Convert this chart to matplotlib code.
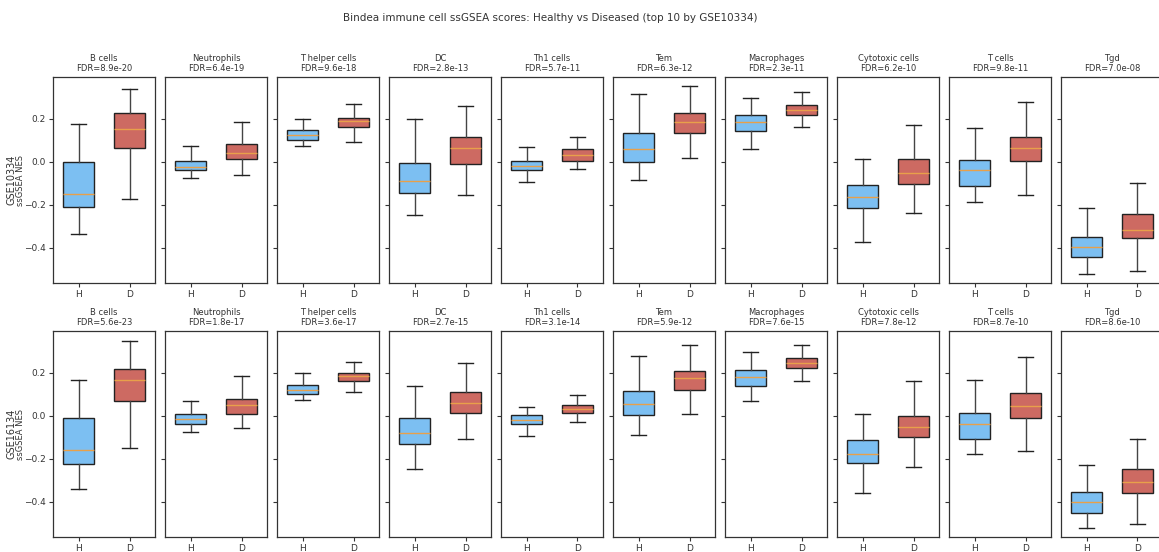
import matplotlib
matplotlib.use("Agg")
import matplotlib.pyplot as plt

# cell types (top 10 by GSE10334) and per-dataset FDR labels
cell_types = ["B cells", "Neutrophils", "T helper cells", "DC", "Th1 cells",
              "Tem", "Macrophages", "Cytotoxic cells", "T cells", "Tgd"]
datasets = ["GSE10334", "GSE16134"]
fdr = {
    "GSE10334": ["8.9e-20", "6.4e-19", "9.6e-18", "2.8e-13", "5.7e-11",
                 "6.3e-12", "2.3e-11", "6.2e-10", "9.8e-11", "7.0e-08"],
    "GSE16134": ["5.6e-23", "1.8e-17", "3.6e-17", "2.7e-15", "3.1e-14",
                 "5.9e-12", "7.6e-15", "7.8e-12", "8.7e-10", "8.6e-10"],
}
groups = ["H", "D"]

# box stats per cell type: (whislo, q1, med, q3, whishi)
gse10334_H = [(-0.336, -0.21, -0.148, 0.0, 0.178),
              (-0.075, -0.04, -0.023, 0.005, 0.073),
              (0.073, 0.103, 0.123, 0.147, 0.197),
              (-0.25, -0.145, -0.088, -0.005, 0.2),
              (-0.095, -0.039, -0.019, 0.005, 0.07),
              (-0.084, -0.002, 0.058, 0.133, 0.314),
              (0.061, 0.142, 0.186, 0.217, 0.295),
              (-0.372, -0.216, -0.166, -0.106, 0.011),
              (-0.188, -0.112, -0.039, 0.009, 0.159),
              (-0.522, -0.445, -0.395, -0.352, -0.217)]
gse10334_D = [(-0.172, 0.062, 0.152, 0.225, 0.339),
              (-0.061, 0.011, 0.042, 0.081, 0.187),
              (0.094, 0.163, 0.19, 0.206, 0.269),
              (-0.155, -0.009, 0.066, 0.117, 0.258),
              (-0.034, 0.005, 0.03, 0.058, 0.117),
              (0.017, 0.136, 0.186, 0.225, 0.355),
              (0.161, 0.22, 0.242, 0.264, 0.327),
              (-0.24, -0.102, -0.052, 0.011, 0.172),
              (-0.156, 0.002, 0.066, 0.117, 0.28),
              (-0.511, -0.356, -0.32, -0.245, -0.1)]
gse16134_H = [(-0.34, -0.225, -0.16, -0.009, 0.167),
              (-0.076, -0.037, -0.016, 0.009, 0.07),
              (0.073, 0.102, 0.119, 0.144, 0.198),
              (-0.247, -0.132, -0.079, -0.011, 0.138),
              (-0.095, -0.04, -0.02, 0.003, 0.043),
              (-0.09, 0.003, 0.057, 0.115, 0.278),
              (0.068, 0.141, 0.181, 0.212, 0.295),
              (-0.361, -0.22, -0.178, -0.115, 0.006),
              (-0.178, -0.11, -0.04, 0.014, 0.166),
              (-0.522, -0.454, -0.4, -0.355, -0.228)]
gse16134_D = [(-0.149, 0.07, 0.166, 0.219, 0.347),
              (-0.059, 0.009, 0.048, 0.079, 0.183),
              (0.113, 0.163, 0.184, 0.198, 0.251),
              (-0.11, 0.014, 0.06, 0.11, 0.248),
              (-0.029, 0.011, 0.033, 0.048, 0.098),
              (0.009, 0.122, 0.174, 0.208, 0.329),
              (0.163, 0.223, 0.248, 0.27, 0.329),
              (-0.239, -0.1, -0.051, 0.0, 0.16),
              (-0.164, -0.011, 0.045, 0.104, 0.273),
              (-0.504, -0.358, -0.307, -0.248, -0.109)]
stats = {"GSE10334": (gse10334_H, gse10334_D),
         "GSE16134": (gse16134_H, gse16134_D)}

colors = ["#7cbff2", "#cd6a62"]


def to_stat(t, label):
    lo, q1, med, q3, hi = t
    return dict(whislo=lo, q1=q1, med=med, q3=q3, whishi=hi, label=label, fliers=[])


W, H = 1159, 552
fig = plt.figure(figsize=(W / 100, H / 100), dpi=100)

row_bottoms = [283, 537]
first_ax = None
for r, ds in enumerate(datasets):
    h_stats, d_stats = stats[ds]
    for i, ct in enumerate(cell_types):
        left = 53 + 112 * i
        rect = [left / W, 1 - row_bottoms[r] / H, 102 / W, 206 / H]
        ax = fig.add_axes(rect, sharey=first_ax)
        if first_ax is None:
            first_ax = ax
        bs = [to_stat(h_stats[i], groups[0]), to_stat(d_stats[i], groups[1])]
        art = ax.bxp(bs, positions=[1, 2], widths=0.6, showfliers=False,
                     patch_artist=True,
                     boxprops=dict(linewidth=1.0, edgecolor="#222222"),
                     whiskerprops=dict(color="#444444", linewidth=1.0),
                     capprops=dict(color="#222222", linewidth=1.0),
                     medianprops=dict(color="#e8a04a", linewidth=1.0))
        for patch, c in zip(art["boxes"], colors):
            patch.set_facecolor(c)
        ax.set_xlim(0.5, 2.5)
        ax.set_title(f"{ct}\nFDR={fdr[ds][i]}", fontsize=6, pad=4,
                     color="#333333", linespacing=1.2)
        ax.tick_params(labelsize=6.5, length=3, pad=2, colors="#333333")
        for s in ax.spines.values():
            s.set_color("#333333")
            s.set_linewidth(0.9)
        if i == 0:
            # two-line y label: dataset name beside the metric
            ax.text(-0.41, 0.5, ds, transform=ax.transAxes, rotation=90,
                    ha="center", va="center", fontsize=7, color="#333333")
            ax.text(-0.315, 0.5, "ssGSEA NES", transform=ax.transAxes,
                    rotation=90, ha="center", va="center", fontsize=6,
                    color="#333333")
        else:
            ax.tick_params(labelleft=False)

first_ax.set_ylim(-0.565, 0.395)
first_ax.set_yticks([-0.4, -0.2, 0.0, 0.2])

fig.text(550 / W, 1 - 18 / H,
         "Bindea immune cell ssGSEA scores: Healthy vs Diseased (top 10 by GSE10334)",
         ha="center", va="center", fontsize=7.5, color="#333333")

fig.savefig("out.png", dpi=100)
